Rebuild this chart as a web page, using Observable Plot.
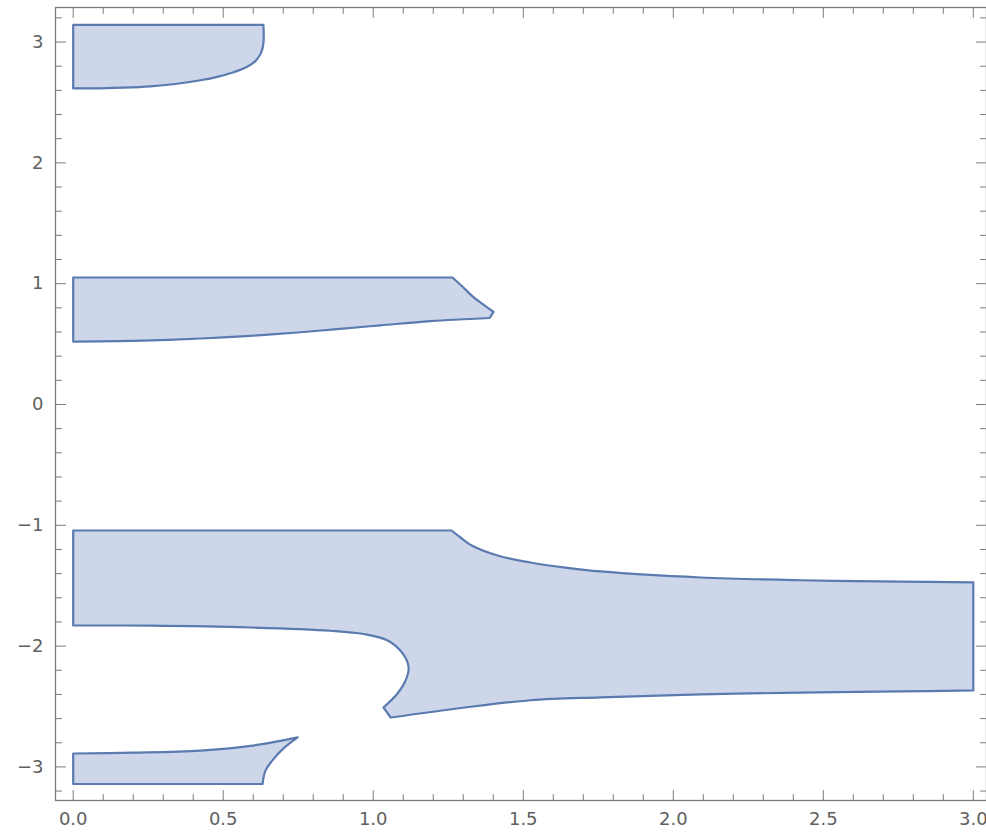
<!DOCTYPE html>
<html>
<head>
<meta charset="utf-8">
<script src="https://cdn.jsdelivr.net/npm/d3@7"></script>
<script src="https://cdn.jsdelivr.net/npm/@observablehq/plot@0.6"></script>
<style>
  html, body { margin: 0; padding: 0; background: #fff; overflow: hidden; }
</style>
</head>
<body>
<div id="chart"></div>
<script>
// Region boundaries: [x, y, corner?]
const region1 = [[0, 3.1416, 1], [0.634, 3.1416, 1], [0.634, 2.99], [0.626, 2.91], [0.61, 2.85], [0.58, 2.795], [0.534, 2.75], [0.48, 2.712], [0.424, 2.684], [0.34, 2.653], [0.258, 2.633], [0.17, 2.622], [0.09, 2.617], [0, 2.616, 1]];
const region2 = [[0, 1.051, 1], [1.264, 1.051, 1], [1.298, 0.974], [1.334, 0.888], [1.372, 0.818], [1.401, 0.766, 1], [1.388, 0.716, 1], [1.191, 0.69], [1.024, 0.655], [0.87, 0.622], [0.758, 0.598], [0.59, 0.568], [0.425, 0.546], [0.258, 0.531], [0.091, 0.522], [0, 0.521, 1]];
const region3 = [[0, -1.043, 1], [1.261, -1.043, 1], [1.291, -1.101], [1.33, -1.17], [1.414, -1.25], [1.524, -1.308], [1.64, -1.35], [1.758, -1.382], [2.091, -1.432], [2.424, -1.455], [2.758, -1.466], [3.0, -1.473, 1], [3.0, -2.367, 1], [2.758, -2.375], [2.424, -2.385], [2.091, -2.4], [1.758, -2.424], [1.524, -2.448], [1.3, -2.51], [1.058, -2.591, 1], [1.034, -2.508, 1], [1.081, -2.392], [1.108, -2.284], [1.118, -2.177], [1.098, -2.061], [1.048, -1.954], [0.968, -1.9], [0.858, -1.873], [0.591, -1.846], [0.258, -1.831], [0, -1.829, 1]];
const region4 = [[0, -2.889, 1], [0.201, -2.882], [0.424, -2.865], [0.591, -2.826], [0.691, -2.784], [0.748, -2.756, 1], [0.701, -2.847], [0.664, -2.946], [0.641, -3.029], [0.631, -3.1416, 1], [0, -3.1416, 1]];

const xMajor = [0, 0.5, 1.0, 1.5, 2.0, 2.5, 3.0];
const xLabels = ["0.0", "0.5", "1.0", "1.5", "2.0", "2.5", "3.0"];
const xMinor = [0.1,0.2,0.3,0.4,0.6,0.7,0.8,0.9,1.1,1.2,1.3,1.4,1.6,1.7,1.8,1.9,2.1,2.2,2.3,2.4,2.6,2.7,2.8,2.9];
const yMajor = [-3, -2, -1, 0, 1, 2, 3];
const yLabels = ["\u22123", "\u22122", "\u22121", "0", "1", "2", "3"];
const yMinor = [-3.2,-2.8,-2.6,-2.4,-2.2,-1.8,-1.6,-1.4,-1.2,-0.8,-0.6,-0.4,-0.2,0.2,0.4,0.6,0.8,1.2,1.4,1.6,1.8,2.2,2.4,2.6,2.8,3.2];

// corners are doubled so the Catmull-Rom curve keeps them sharp
const regions = [region1, region2, region3, region4]
  .flatMap((pts, i) => pts.flatMap(([x, y, c]) => {
    const p = {region: i, x, y};
    return c ? [p, {...p}] : [p];
  }));

const tickShape = {draw(context, l) { context.moveTo(0, 0); context.lineTo(0, -l); }};
const frameColor = "#7a7a7a";
const labelColor = "#5f5f5f";

function ticks(data, anchor, length) {
  const rot = {bottom: 0, top: 180, left: 90, right: -90}[anchor];
  const isX = anchor === "bottom" || anchor === "top";
  return Plot.vector(data, {
    ...(isX ? {x: d => d} : {y: d => d}),
    frameAnchor: anchor, length, rotate: rot, anchor: "start",
    shape: tickShape, stroke: frameColor, strokeWidth: 1
  });
}

const chart = Plot.plot({
  width: 986,
  height: 833,
  marginLeft: 55,
  marginRight: 0,
  marginTop: 7,
  marginBottom: 33,
  x: {domain: [-0.059, 3.044], axis: null},
  y: {domain: [-3.278, 3.286], axis: null},
  style: {fontFamily: "DejaVu Sans, sans-serif", background: "#fff"},
  marks: [
    Plot.line(regions, {x: "x", y: "y", z: "region", fill: "#cdd7e9", stroke: "#5a7ab0", strokeWidth: 2.2, strokeLinejoin: "round", curve: "catmull-rom-closed"}),
    Plot.frame({stroke: frameColor, strokeWidth: 1.3}),
    ticks(xMajor, "bottom", 10), ticks(xMinor, "bottom", 6),
    ticks(xMajor, "top", 10), ticks(xMinor, "top", 6),
    ticks(yMajor, "left", 10), ticks(yMinor, "left", 6),
    ticks(yMajor, "right", 10), ticks(yMinor, "right", 6),
    Plot.text(xMajor, {x: d => d, frameAnchor: "bottom", dy: 19, text: (d, i) => xLabels[i], lineAnchor: "middle", fontSize: 18, fill: labelColor, letterSpacing: 1.5}),
    Plot.text(yMajor, {y: d => d, frameAnchor: "left", dx: -12, text: (d, i) => yLabels[i], textAnchor: "end", fontSize: 18, fill: labelColor})
  ]
});
document.getElementById("chart").append(chart);
</script>
</body>
</html>
